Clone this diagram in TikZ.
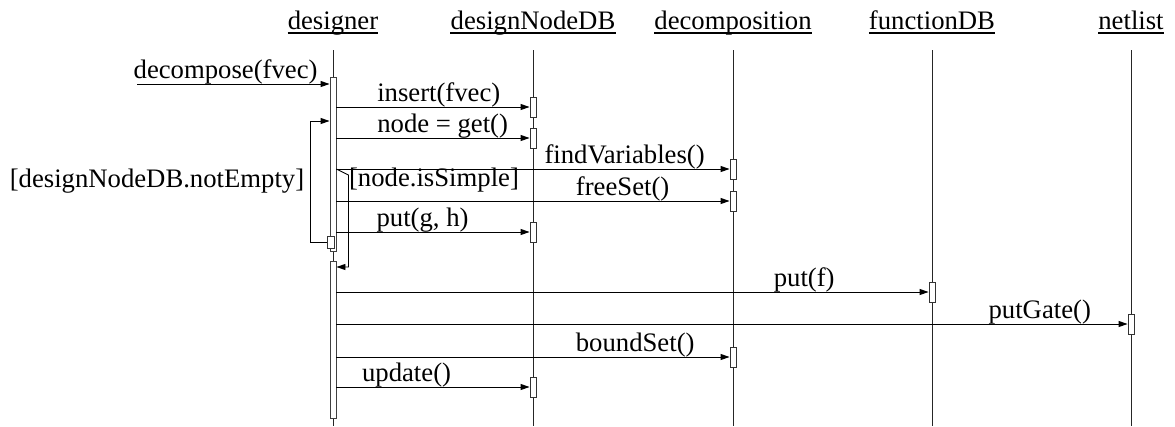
\documentclass[tikz,border=0pt]{standalone}
\usepackage{fontspec}
\setmainfont{Liberation Serif}
\usetikzlibrary{arrows.meta,positioning,calc}

\begin{document}
\begin{tikzpicture}[
  x=1pt, y=-1pt,
  font=\fontsize{26.7}{30}\selectfont,
  >={Triangle[length=9pt,width=6pt]},
  head/.style={inner sep=0pt, anchor=base},
  life/.style={line width=0.9pt, draw=black!85},
  bar/.style={rectangle, draw=black!75, fill=white, line width=0.9pt, inner sep=0pt, minimum width=6pt},
  act/.style={rectangle, draw=black!80, fill=white, line width=0.9pt, inner sep=0pt,
              minimum width=6pt, minimum height=20pt},
  msg/.style={->, line width=0.9pt},
  lbl/.style={inner sep=0pt, anchor=base, yshift=6pt},
  guard/.style={inner sep=0pt, anchor=base},
]
\useasboundingbox (0,0) rectangle (1175,426);

% objects
\node[head] (designer)      at (333,29)  {designer};
\node[head] (designNodeDB)  at (533,29)  {designNodeDB};
\node[head] (decomposition) at (733,29)  {decomposition};
\node[head] (functionDB)    at (932,29)  {functionDB};
\node[head] (netlist)       at (1131,29) {netlist};

\foreach \h in {designer,designNodeDB,decomposition,functionDB,netlist}{
  \draw[line width=1.3pt] ($(\h.base -| \h.west)+(0,4)$) -- ($(\h.base -| \h.east)+(0,4)$);
  \draw[life] (\h |- 0,50) -- (\h |- 0,426);
}

% activations
\node[bar, minimum height=174pt] (b1) at (333,164)   {};
\node[bar, minimum height=157pt] (b2) at (333,339.5) {};
\node[act, minimum width=7pt, minimum height=12pt] (nest) at (330.5,242) {};

\node[act] (a1) at (533,107)  {};
\node[act] (a2) at (533,138)  {};
\node[act] (a3) at (733,169)  {};
\node[act] (a4) at (733,201)  {};
\node[act] (a5) at (533,232)  {};
\node[act] (a6) at (932,292)  {};
\node[act] (a7) at (1131,324) {};
\node[act] (a8) at (733,357)  {};
\node[act] (a9) at (533,387)  {};

% messages
\coordinate (src) at (137,84);
\draw[msg] (src) -- node[lbl, pos=0.46]{decompose(fvec)} (src -| b1.west);
\draw[msg] (a1.west -| b1.east) -- node[lbl, pos=0.53]{insert(fvec)} (a1.west);
\draw[msg] (a2.west -| b1.east) -- node[lbl, pos=0.55]{node = get()} (a2.west);
\draw[msg] (a3.west -| b1.east) -- node[lbl, pos=0.733]{findVariables()} (a3.west);
\draw[msg] (a4.west -| b1.east) -- node[lbl, pos=0.728]{freeSet()} (a4.west);
\draw[msg] (a5.west -| b1.east) -- node[lbl, pos=0.446]{put(g, h)} (a5.west);
\draw[msg] (a6.west -| b2.east) -- node[lbl, pos=0.79]{put(f)} (a6.west);
\draw[msg] (a7.west -| b2.east) -- node[lbl, pos=0.889]{putGate()} (a7.west);
\draw[msg] (a8.west -| b2.east) -- node[lbl, pos=0.76]{boundSet()} (a8.west);
\draw[msg] (a9.west -| b2.east) -- node[lbl, pos=0.363]{update()} (a9.west);

% loop and guard
\coordinate (loopy) at (0,121);
\coordinate (gy) at (0,267);
\draw[msg] (nest.west) -- ++(-16,0) |- (b1.west |- loopy);
\draw[msg] (a3.west -| b1.east) -- ++(12,6) |- (b2.east |- gy);
\node[guard] (g1) at (157,187) {[designNodeDB.notEmpty]};
\node[guard] (g2) at (434,186) {[node.isSimple]};

\end{tikzpicture}
\end{document}
